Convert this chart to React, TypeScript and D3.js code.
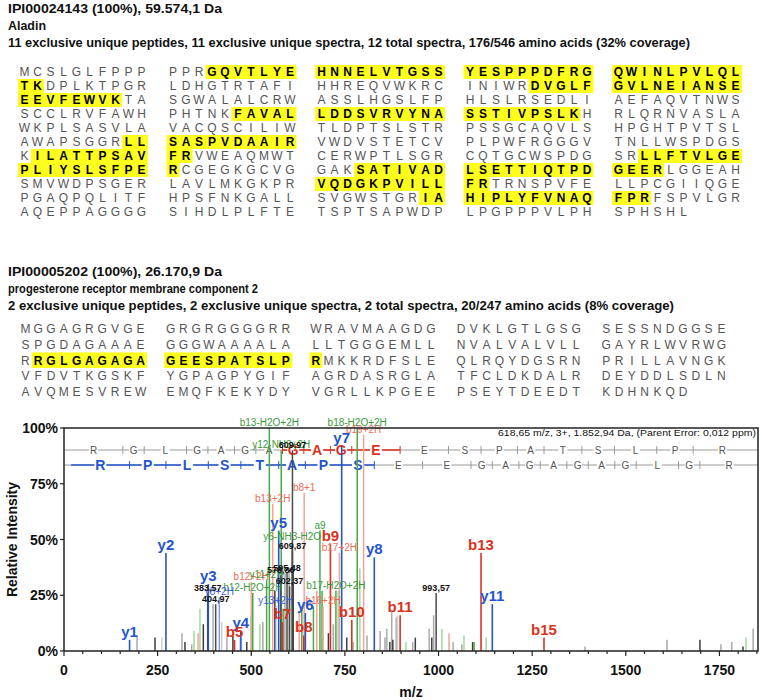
import * as d3 from 'd3'

const W = 762
const H = 700

// ---- protein 1 ----
const PROT1_HEAD = [
  'IPI00024143 (100%), 59.574,1 Da',
  'Aladin',
  '11 exclusive unique peptides, 11 exclusive unique spectra, 12 total spectra, 176/546 amino acids (32% coverage)',
]
const PROT1_ROWS = [
  'MCSLGLFPPPPPRGQVTLYEHNNELVTGSSYESPPPDFRGQWINLPVLQL',
  'TKDPLKTPGRLDHGTRTAFIHHREQVWKRCINIWRDVGLFGVLNEIANSE',
  'EEVFEWVKTASGWALALCRWASSLHGSLFPHLSLRSEDLIAEFAQVTNWS',
  'SCCLRVFAWHPHTNKFAVALLDDSVRVYNASSTIVPSLKHRLQRNVASLA',
  'WKPLSASVLAVACQSCILIWTLDPTSLSTRPSSGCAQVLSHPGHTPVTSL',
  'AWAPSGGRLLSASPVDAAIRVWDVSTETCVPLPWFRGGGVTNLLWSPDGS',
  'KILATTPSAVFRVWEAQMWTCERWPTLSGRCQTGCWSPDGSRLLFTVLGE',
  'PLIYSLSFPERCGEGKGCVGGAKSATIVADLSETTIQTPDGEERLGGEAH',
  'SMVWDPSGERLAVLMKGKPRVQDGKPVILLFRTRNSPVFELLPCGIIQGE',
  'PGAQPQLITFHPSFNKGALLSVGWSTGRIAHIPLYFVNAQFPRFSPVLGR',
  'AQEPPAGGGGSIHDLPLFTETSPTSAPWDPLPGPPPVLPHSPHSHL',
]
const PROT1_COVER = [[13, 51], [85, 107], [165, 188], [258, 269], [301, 311], [342, 360], [373, 393], [420, 431], [478, 492]]

// ---- protein 2 ----
const PROT2_HEAD = [
  'IPI00005202 (100%), 26.170,9 Da',
  'progesterone receptor membrane component 2',
  '2 exclusive unique peptides, 2 exclusive unique spectra, 2 total spectra, 20/247 amino acids (8% coverage)',
]
const PROT2_ROWS = [
  'MGGAGRGVGEGRGRGGGGRRWRAVMAAGDGDVKLGTLGSGSESSNDGGSE',
  'SPGDAGAAAEGGGWAAAALALLTGGGEMLLNVALVALVLLGAYRLWVRWG',
  'RRGLGAGAGAGEESPATSLPRMKKRDFSLEQLRQYDGSRNPRILLAVNGK',
  'VFDVTKGSKFYGPAGPYGIFAGRDASRGLATFCLDKDALRDEYDDLSDLN',
  'AVQMESVREWEMQFKEKYDYVGRLLKPGEEPSEYTDEEDTKDHNKQD',
]
const PROT2_COVER = [[101, 120]]

// ---- spectrum ----
const PEPTIDE = 'RGLGAGAGAGEESPATSLPR'
const RES_MASS: Record<string, number> = {
  G: 57.02146, A: 71.03711, S: 87.03203, P: 97.05276, T: 101.04768,
  L: 113.08406, E: 129.04259, R: 156.10111,
}
const PROTON = 1.00728
const WATER = 18.01056
const B_FOUND = [5, 7, 8, 9, 10, 11, 13, 15]
const Y_FOUND = [1, 2, 3, 4, 5, 6, 7, 8, 11]
const PRECURSOR = '618,65 m/z, 3+, 1.852,94 Da,  (Parent Error: 0,012 ppm)'

const X_TICKS = [0, 250, 500, 750, 1000, 1250, 1500, 1750]
const Y_TICKS = [0, 25, 50, 75, 100]

// main b / y ions
const ION_NAMES = ['y1', 'y2', 'y3', 'y4', 'y5', 'y6', 'y7', 'y8', 'y11', 'b5', 'b7', 'b8', 'b9', 'b10', 'b11', 'b13', 'b15']
const ION_MZ = [175.1, 272.2, 385.3, 472.3, 573.3, 644.4, 741.4, 828.5, 1143.6, 455.3, 583.3, 640.3, 711.4, 768.4, 897.5, 1113.5, 1281.6]
const ION_INT = [5, 44, 30, 9, 54, 17, 92, 42, 21, 5, 13, 7, 48, 14, 16, 44, 6]

// secondary (annotated) ions
const SUB_NAMES = ['b13-H2O+2H', 'b18-H2O+2H', 'b19+2H', 'b13+2H', 'b8+1', 'a9', 'y6-NH3-H2O', '609,87', 'b17+2H', 'b12+2H', 'y11+2H', 'b12-H2O+2H', 'b17-H2O+2H', 'y8+2H', 'y13+2H', 'b16+2H', '383,57', '404,97', '993,57', '602,37', 'y12-NH3+2H', '609,97', '578,86', '595,48']
const SUB_MZ = [548.3, 782.9, 800.0, 557.3, 641.3, 683.4, 609.3, 609.9, 735.3, 500.0, 541.0, 504.0, 726.0, 414.7, 565.0, 691.8, 383.6, 405.0, 993.6, 602.4, 580.0, 609.97, 578.9, 595.5]
const SUB_INT = [100, 100, 97, 66, 71, 54, 49, 45, 44, 31, 32, 26, 27, 24, 20, 20, 26, 21, 26, 29, 90, 90, 34, 35]
const SUB_KIND = ['green', 'green', 'lred', 'lred', 'lred', 'green', 'green', 'black', 'lred', 'lred', 'green', 'green', 'green', 'lblue', 'lblue', 'lred', 'black', 'black', 'black', 'black', 'green', 'black', 'black', 'black']

// unassigned / minor peaks
const PEAK_MZ = [195, 243, 261, 315, 323, 341, 347, 358, 363, 372, 398, 421, 435, 451, 470, 488, 499, 523, 531, 563, 585, 590, 601, 612, 628, 635, 666, 675, 689, 706, 719, 732, 755, 772, 790, 809, 844, 857, 862, 870, 875, 878, 887, 890, 913, 931, 938, 975, 982, 987, 1009, 1028, 1039, 1062, 1068, 1091, 1095, 1127, 1391, 1610, 1698, 1754, 1783, 1813, 1821, 1840]
const PEAK_INT = [7, 6, 6, 8, 4, 3, 9, 8, 19, 12, 21, 13, 6, 7, 6, 4, 16, 12, 13, 27, 19, 35, 37, 35, 18, 20, 20, 27, 27, 8, 12, 27, 6, 4, 37, 7, 9, 6, 10, 4, 18, 5, 15, 16, 4, 4, 6, 10, 6, 16, 10, 8, 4, 3, 7, 4, 4, 6, 2, 5, 5, 3, 4, 2, 6, 10]
const PEAK_KIND = ['gray', 'dark', 'lgray', 'gray', 'dark', 'gray', 'lgreen', 'lred', 'lgreen', 'dark', 'gray', 'lgray', 'gray', 'dark', 'lgray', 'dark', 'lgreen', 'lgreen', 'gray', 'dark', 'green', 'gray', 'gray', 'dark', 'lred', 'green', 'green', 'lred', 'green', 'dark', 'gray', 'lgreen', 'dark', 'gray', 'lgreen', 'gray', 'gray', 'gray', 'gray', 'dark', 'gray', 'dark', 'gray', 'lgray', 'lgreen', 'gray', 'dark', 'gray', 'dark', 'gray', 'lgreen', 'lred', 'gray', 'gray', 'lgreen', 'dark', 'green', 'lgreen', 'gray', 'gray', 'dark', 'gray', 'gray', 'dark', 'lgreen', 'gray']

const KIND_COLOR: Record<string, string> = {
  gray: '#a9a9a9', lgray: '#cfcfcf', dark: '#3c3c3c',
  green: '#4aa84a', lgreen: '#a3d9a3', lred: '#f3a494', lblue: '#7f9fe6', black: '#4a4a4a',
}
const LABEL_COLOR: Record<string, string> = {
  green: '#3a9a3a', lred: '#ef6a55', lblue: '#3b63d6', black: '#111',
}
const BLUE = '#2355cc'
const RED = '#dc3220'
const FONT = 'Liberation Sans, Arial, sans-serif'

const x = d3.scaleLinear().domain([0, 1853]).range([64, 758])
const y = d3.scaleLinear().domain([0, 100]).range([651, 428])

function Header({ lines, top, widths }: { lines: string[]; top: number; widths: number[] }) {
  return (
    <g fontFamily={FONT} fontWeight={700} fontSize={12} fill="#111">
      {lines.map((t, i) => (
        <text key={i} x={8} y={top + i * 17} textLength={widths[i]} lengthAdjust="spacingAndGlyphs">{t}</text>
      ))}
    </g>
  )
}

function Sequence({ rows, cover, x0, blockStep, cell, y0, rowStep }: {
  rows: string[]; cover: number[][]; x0: number; blockStep: number; cell: number; y0: number; rowStep: number
}) {
  const inCover = (i: number) => cover.some(([a, b]) => i >= a && i <= b)
  const rects: JSX.Element[] = []
  const letters: JSX.Element[] = []
  rows.forEach((row, r) => {
    const cy = y0 + r * rowStep
    for (let b = 0; b < 5; b++) {
      const bx = x0 + b * blockStep
      let runStart = -1
      for (let c = 0; c <= 10; c++) {
        const idx = r * 50 + b * 10 + c
        const on = c < 10 && idx < r * 50 + row.length && inCover(idx)
        if (on && runStart < 0) runStart = c
        if (!on && runStart >= 0) {
          rects.push(<rect key={`h${r}-${b}-${runStart}`} x={bx + runStart * cell} y={cy - rowStep / 2}
            width={(c - runStart) * cell} height={rowStep} fill="#ffff1e" />)
          runStart = -1
        }
        if (c < 10) {
          const ch = row[b * 10 + c]
          if (!ch) continue
          letters.push(
            <text key={`l${r}-${b}-${c}`} x={bx + c * cell + cell / 2} y={cy + 4.3} textAnchor="middle"
              fontWeight={on ? 700 : 400} fill={on ? '#000' : '#555'}>{ch}</text>,
          )
        }
      }
    }
  })
  return (
    <g fontFamily={FONT} fontSize={12}>
      {rects}
      {letters}
    </g>
  )
}

function IonRow({ residues, mz, found, color, rowY }: {
  residues: string[]; mz: number[]; found: number[]; color: string; rowY: number
}) {
  const have = (i: number) => i === 0 || found.includes(i)
  const lit = residues.map((_, i) => have(i) && have(i + 1))
  const segs: JSX.Element[] = []
  lit.forEach((on, i) => {
    if (on) segs.push(<line key={`s${i}`} x1={x(mz[i])} x2={x(mz[i + 1])} y1={rowY} y2={rowY} stroke={color} strokeWidth={1.6} />)
  })
  return (
    <g fontFamily={FONT}>
      <line x1={x(0)} x2={x(1853)} y1={rowY} y2={rowY} stroke="#9a9a9a" strokeWidth={1} />
      {segs}
      {mz.slice(1, -1).map((m, i) => (
        <line key={`t${i}`} x1={x(m)} x2={x(m)} y1={rowY - 4} y2={rowY + 4}
          stroke={lit[i] || lit[i + 1] ? color : '#9a9a9a'} strokeWidth={1} />
      ))}
      {residues.map((r, i) => {
        const cx = x((mz[i] + mz[i + 1]) / 2)
        const big = lit[i]
        return (
          <g key={`r${i}`}>
            <rect x={cx - (big ? 6 : 4.5)} y={rowY - 6} width={big ? 12 : 9} height={12} fill="#fff" />
            <text x={cx} y={rowY + (big ? 5 : 3.5)} textAnchor="middle" fontSize={big ? 14 : 10}
              fontWeight={big ? 700 : 400} fill={big ? color : '#555'}>{r}</text>
          </g>
        )
      })}
    </g>
  )
}

function Spectrum() {
  const res = PEPTIDE.split('')
  const cum = (arr: string[], base: number) => {
    const out = [base]
    arr.forEach(r => out.push(out[out.length - 1] + RES_MASS[r]))
    return out
  }
  const bMz = cum(res, PROTON)
  const yRes = [...res].reverse()
  const yMz = cum(yRes, PROTON + WATER)

  const [x0, x1] = x.range()
  const [yb, yt] = y.range()
  const minor = d3.range(0, 1853, 50)

  return (
    <g>
      <IonRow residues={res} mz={bMz} found={B_FOUND} color={RED} rowY={450} />
      <IonRow residues={yRes} mz={yMz} found={Y_FOUND} color={BLUE} rowY={465} />

      {PEAK_MZ.map((m, i) => (
        <line key={`p${i}`} x1={x(m)} x2={x(m)} y1={y(0)} y2={y(PEAK_INT[i])} stroke={KIND_COLOR[PEAK_KIND[i]]} strokeWidth={1.5} />
      ))}
      {SUB_MZ.map((m, i) => (
        <line key={`q${i}`} x1={x(m)} x2={x(m)} y1={y(0)} y2={y(SUB_INT[i])} stroke={KIND_COLOR[SUB_KIND[i]]} strokeWidth={1.5} />
      ))}
      {ION_MZ.map((m, i) => (
        <line key={`i${i}`} x1={x(m)} x2={x(m)} y1={y(0)} y2={y(ION_INT[i])}
          stroke={ION_NAMES[i][0] === 'y' ? BLUE : RED} strokeWidth={1.6} />
      ))}

      <g fontFamily={FONT} fontSize={10} textAnchor="middle">
        {SUB_MZ.map((m, i) => (
          <text key={`ql${i}`} x={x(m)} y={y(SUB_INT[i]) - 2} fill={LABEL_COLOR[SUB_KIND[i]]}
            fontWeight={SUB_KIND[i] === 'black' ? 700 : 400} fontSize={SUB_KIND[i] === 'black' ? 9 : 10}>{SUB_NAMES[i]}</text>
        ))}
      </g>
      <g fontFamily={FONT} fontSize={15} fontWeight={700} textAnchor="middle">
        {ION_MZ.map((m, i) => (
          <text key={`il${i}`} x={x(m)} y={y(ION_INT[i]) - 3} fill={ION_NAMES[i][0] === 'y' ? BLUE : RED}>{ION_NAMES[i]}</text>
        ))}
      </g>

      {/* frame and axes */}
      <path d={`M${x0},${yb} V${yt} H${x1} V${yb} H${x0}`} fill="none" stroke="#222" strokeWidth={1.5} />
      {minor.map(v => (
        <line key={`mx${v}`} x1={x(v)} x2={x(v)} y1={yb} y2={yb + (v % 250 === 0 ? 5 : 3)} stroke="#222" strokeWidth={1.2} />
      ))}
      {Y_TICKS.map(v => (
        <line key={`yt${v}`} x1={x0 - 4} x2={x0} y1={y(v)} y2={y(v)} stroke="#222" strokeWidth={1.2} />
      ))}
      <g fontFamily={FONT} fontSize={14} fontWeight={700} fill="#111">
        {X_TICKS.map(v => (
          <text key={`xl${v}`} x={x(v)} y={675} textAnchor="middle">{v}</text>
        ))}
        {Y_TICKS.map(v => (
          <text key={`yl${v}`} x={x0 - 6} y={y(v) + 5} textAnchor="end">{v}%</text>
        ))}
        <text x={(x0 + x1) / 2} y={697} textAnchor="middle">m/z</text>
        <text transform={`translate(17,${(yb + yt) / 2}) rotate(-90)`} textAnchor="middle">Relative Intensity</text>
      </g>
      <text x={x1 - 2} y={436} textAnchor="end" fontFamily={FONT} fontSize={9} fill="#111" textLength={258}
        lengthAdjust="spacingAndGlyphs">{PRECURSOR}</text>
    </g>
  )
}

export default function App() {
  return (
    <div style={{ position: 'absolute', left: 0, top: 0, width: W, height: H, background: '#fff' }}>
      <svg width={W} height={H} style={{ display: 'block' }}>
        <rect width={W} height={H} fill="#fff" />
        <Header lines={PROT1_HEAD} top={13} widths={[214, 38, 682]} />
        <Sequence rows={PROT1_ROWS} cover={PROT1_COVER} x0={18} blockStep={148.5} cell={13} y0={72} rowStep={14} />
        <Header lines={PROT2_HEAD} top={276} widths={[214, 250, 666]} />
        <Sequence rows={PROT2_ROWS} cover={PROT2_COVER} x0={19} blockStep={145.2} cell={12.8} y0={329} rowStep={15.6} />
        <Spectrum />
      </svg>
    </div>
  )
}
